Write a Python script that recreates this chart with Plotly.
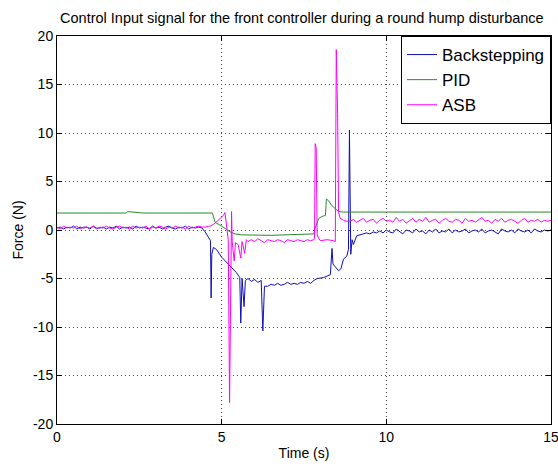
import numpy as np
import plotly.graph_objects as go

# ---------------- data ----------------
# Backstepping
bs_left_start = 0.0
bs_left = [0.2,0.3,0.1,0.3,0.2,0.4,0.1,0.3,0.2,0.3,0.1,0.4,0.2,0.2,0.3,0.1,0.3,0.2,0.4,0.1,
           0.3,0.2,0.3,0.1,0.4,0.2,0.3,0.2,0.1,0.4,0.2,0.3,0.1,0.3,0.4,0.2,0.1,0.3,0.2,0.4,
           0.1,0.3,0.2,0.3,0.2]
bs_mid_t = [4.5,4.6,4.66,4.68,4.70,4.75,4.84,5.0,5.2,5.33,5.45,5.55,5.58,5.62,5.68,5.72,5.8,5.9,
            6.0,6.1,6.2,6.25,6.3]
bs_mid_v = [-0.2,-0.8,-1.1,-7.0,-2.5,-1.8,-2.0,-2.8,-3.5,-3.9,-4.4,-4.9,-9.6,-5.0,-7.9,-5.2,-5.0,-5.3,
            -5.1,-5.4,-5.2,-10.4,-5.8]
bs_flat_start = 6.4
bs_flat = [-5.8,-5.6,-5.7,-5.5,-5.7,-5.6,-5.4,-5.6,-5.5,-5.6,-5.4,-5.5,-5.3,-5.5,-5.2]
bs_end_t = [7.9,8.1,8.3,8.35,8.38,8.45,8.55,8.62,8.7,8.8,8.85,8.88,8.92,8.96,9.0,9.1]
bs_end_v = [-5.0,-4.9,-4.6,-1.9,-3.5,-3.8,-4.2,-4.0,-3.0,-2.7,-2.0,10.3,-2.5,-1.0,-1.5,-0.6]
bs_right_start = 9.2
bs_right = [-0.5,-0.4,-0.3,-0.4,-0.2,-0.3,-0.1,-0.3,0.0,-0.2,-0.3,0.1,-0.2,-0.4,0.0,-0.1,-0.3,0.1,
            -0.2,-0.1,-0.4,0.0,-0.2,0.1,-0.3,-0.1,-0.2,0.1,-0.3,0.0,-0.2,-0.1,0.1,-0.3,-0.1,0.0,
            -0.2,0.1,-0.3,-0.1,0.0,-0.2,-0.4,0.1,-0.1,-0.2,0.0,-0.3,0.1,-0.1,-0.2,0.0,-0.3,0.1,
            -0.1,-0.2,0.0,-0.1,0.0]

# PID
pid_t = [0.0,2.1,2.15,2.3,2.6,4.72,4.8,5.0,5.26,5.4,5.6,6.5,7.0,7.8,7.85,7.95,8.05,8.15,8.18,
         8.25,8.35,8.45,8.55,8.7,15.0]
pid_v = [1.75,1.75,1.9,1.85,1.75,1.75,0.8,0.4,-0.2,-0.4,-0.5,-0.55,-0.5,-0.4,0.3,1.2,1.4,1.5,3.2,
         3.0,2.5,2.2,1.9,1.85,1.85]

# ASB
asb_left_start = 0.0
asb_left = [0.3,0.1,0.4,0.2,0.3,0.2,0.4,0.1,0.3,0.3,0.2,0.4,0.1,0.3,0.2,0.4,0.2,0.1,0.3,0.4,
            0.2,0.3,0.1,0.4,0.2,0.3,0.2,0.4,0.1,0.3,0.2,0.4,0.3,0.1,0.3,0.2,0.4,0.2,0.3,0.1,
            0.4,0.2,0.3,0.4,0.3,0.3,0.4]
asb_mid_t = [4.66,4.8,4.93,5.05,5.1,5.15,5.2,5.24,5.28,5.3,5.32,5.38,5.42,5.5,5.58,5.62,5.7,5.75,5.8]
asb_mid_v = [0.4,0.7,1.1,1.5,1.8,0.5,-1.0,-17.8,-1.0,1.9,-1.2,-3.2,-1.3,-1.5,-2.9,-1.2,-2.4,-1.0,-1.2]
asb_flat_start = 5.9
asb_flat = [-1.0,-1.2,-0.9,-1.1,-1.3,-1.0,-1.1,-1.2,-1.0,-1.1,-1.3,-1.0,-1.1,-1.2,-1.0,-1.1,-1.2,
            -1.0,-1.1]
asb_end_t = [7.8,7.82,7.84,7.87,7.9,7.95,8.0,8.2,8.4,8.45,8.48,8.52,8.55,8.6,8.7,8.8]
asb_end_v = [-1.0,-0.9,8.9,8.5,-0.5,-0.9,-1.1,-1.0,-1.1,-1.2,18.6,12.0,1.8,1.2,1.0,0.9]
asb_right_start = 8.9
asb_right = [0.9,1.1,0.8,1.0,1.2,0.8,1.0,1.1,0.7,1.0,1.2,0.9,1.0,0.8,1.3,0.9,1.1,0.7,1.0,1.2,
             0.8,1.1,0.9,1.3,0.8,1.0,1.1,0.7,1.0,1.2,0.9,0.8,1.1,1.0,0.7,1.2,0.9,1.0,0.8,1.1,
             1.3,0.9,1.0,0.7,1.1,0.9,1.2,0.8,1.0,1.1,0.9,0.7,1.0,1.2,0.8,1.0,0.9,1.1,0.8,1.0,
             0.9,1.0]

x_ticks = [0, 5, 10, 15]
x_labels = ["0", "5", "10", "15"]
y_ticks = [-20, -15, -10, -5, 0, 5, 10, 15, 20]
y_labels = ["-20", "-15", "-10", "-5", "0", "5", "10", "15", "20"]
title = "Control Input signal for the front controller during a round hump disturbance"

# ---------------- assemble ----------------
def grid(start, vals, step=0.1):
    return list(np.round(start + step * np.arange(len(vals)), 3))

bs_t = grid(bs_left_start, bs_left) + bs_mid_t + grid(bs_flat_start, bs_flat) + bs_end_t + grid(bs_right_start, bs_right)
bs_v = bs_left + bs_mid_v + bs_flat + bs_end_v + bs_right
asb_t = grid(asb_left_start, asb_left) + asb_mid_t + grid(asb_flat_start, asb_flat) + asb_end_t + grid(asb_right_start, asb_right)
asb_v = asb_left + asb_mid_v + asb_flat + asb_end_v + asb_right
def clip(t, v):
    pairs = [(a, b) for a, b in zip(t, v) if a <= 15.0]
    return [p[0] for p in pairs], [p[1] for p in pairs]
bs_t, bs_v = clip(bs_t, bs_v)
asb_t, asb_v = clip(asb_t, asb_v)

FONT = "Liberation Sans, Arial, sans-serif"

fig = go.Figure()
fig.add_trace(go.Scatter(x=bs_t, y=bs_v, mode="lines", name="Backstepping",
                         line=dict(color="#1010b4", width=1)))
fig.add_trace(go.Scatter(x=pid_t, y=pid_v, mode="lines", name="PID",
                         line=dict(color="#2a8a2a", width=1)))
fig.add_trace(go.Scatter(x=asb_t, y=asb_v, mode="lines", name="ASB",
                         line=dict(color="#ff00ff", width=1)))

axis_common = dict(showline=True, linecolor="black", linewidth=1, mirror="ticks",
                   ticks="inside", ticklen=5, tickcolor="black",
                   showgrid=True, gridcolor="#444444", gridwidth=1, griddash="1px,3px",
                   zeroline=False, automargin=False, ticklabeloverflow="allow",
                   tickfont=dict(family=FONT, size=14, color="black"))

fig.update_xaxes(range=[0, 15], tickvals=x_ticks, ticktext=x_labels, **axis_common,
                 title=dict(text="Time (s)", font=dict(family=FONT, size=14, color="black"), standoff=4))
fig.update_yaxes(range=[-20, 20], tickvals=y_ticks, ticktext=y_labels, **axis_common,
                 title=dict(text="Force (N)", font=dict(family=FONT, size=14, color="black"), standoff=6))

fig.update_layout(
    width=558, height=467,
    margin=dict(l=57, r=7, t=36, b=43),
    paper_bgcolor="white", plot_bgcolor="white",
    title=dict(text=title, font=dict(family=FONT, size=14.5, color="black"),
               x=0.541, xanchor="center", y=0.962, yanchor="middle"),
    legend=dict(x=1, y=1, xanchor="right", yanchor="top",
                bgcolor="white", bordercolor="black", borderwidth=1,
                font=dict(family=FONT, size=17, color="black"),
                tracegroupgap=0, itemwidth=30),
    showlegend=True,
)

fig.write_html("out.html", config={"displayModeBar": False},
               post_script="document.body.style.margin='0';")
